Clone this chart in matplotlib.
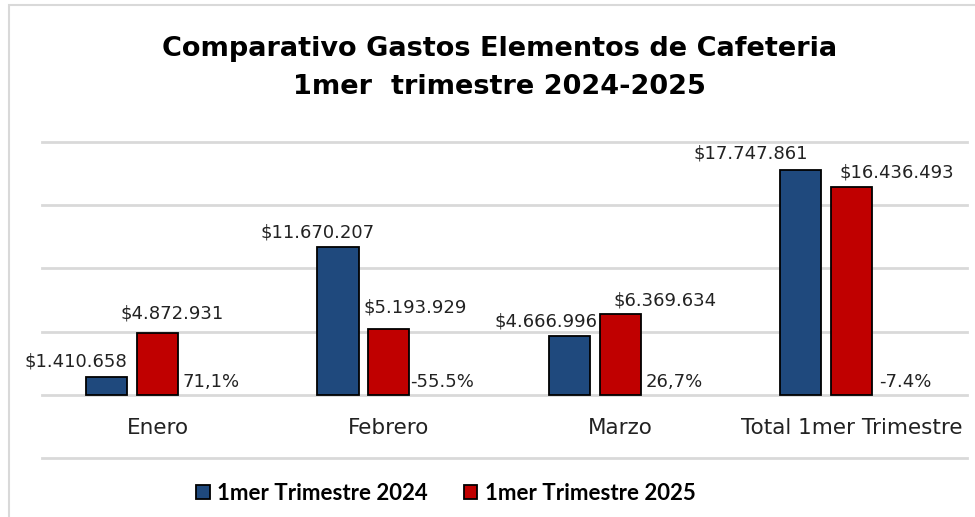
import matplotlib.pyplot as plt
import numpy as np
from matplotlib.patches import Rectangle

categorias = ['Enero', 'Febrero', 'Marzo', 'Total 1mer Trimestre']
gasto_2024 = [1410658, 11670207, 4666996, 17747861]
gasto_2025 = [4872931, 5193929, 6369634, 16436493]
variacion = ['71,1%', '-55.5%', '26,7%', '-7.4%']
series = ['1mer Trimestre 2024', '1mer Trimestre 2025']

azul = '#1F497D'
rojo = '#C00000'
font = 'DejaVu Sans'

def pesos(v):
    return '$' + f'{v:,}'.replace(',', '.')

fig = plt.figure(figsize=(9.75, 5.17), dpi=100)
W, H = 975, 517
# marco del grafico
fig.patches.append(Rectangle((9 / W, -0.1), 1.2, (H - 5) / H + 0.1, transform=fig.transFigure,
                             fill=False, edgecolor='#d9d9d9', linewidth=1.5))

ax = fig.add_axes([42 / W, (H - 458) / H, (967 - 42) / W, (458 - 142) / H])
x = np.arange(len(categorias))
w = 0.178
paso = 0.22

b1 = ax.bar(x - paso, gasto_2024, w, color=azul, edgecolor='black', linewidth=1.3, label=series[0], zorder=3)
b2 = ax.bar(x, gasto_2025, w, color=rojo, edgecolor='black', linewidth=1.3, label=series[1], zorder=3)

ax.set_xlim(-0.5, len(categorias) - 0.5)
ax.set_ylim(-5e6, 20e6)
ax.set_yticks(np.arange(-5e6, 20e6 + 1, 5e6))
ax.yaxis.grid(True, color='#d9d9d9', linewidth=2)
ax.set_axisbelow(True)
for s in ax.spines.values():
    s.set_visible(False)
ax.set_xticks([])
ax.tick_params(left=False, labelleft=False)
for gl in ax.get_ygridlines():
    gl.set_clip_on(False)

# desplazamientos de etiquetas (px)
off_2024 = [(-31, 15), (-20, 15), (-23, 14), (-50, 17)]
off_2025 = [(15, 20), (26, 22), (45, 14), (45, 15)]
for i, (bar, v) in enumerate(zip(b1, gasto_2024)):
    ax.annotate(pesos(v), (bar.get_x() + bar.get_width() / 2, v),
                xytext=(off_2024[i][0] * 0.72, off_2024[i][1] * 0.72), textcoords='offset points',
                ha='center', va='center', fontsize=13, family=font, color='#222222')
for i, (bar, v) in enumerate(zip(b2, gasto_2025)):
    ax.annotate(pesos(v), (bar.get_x() + bar.get_width() / 2, v),
                xytext=(off_2025[i][0] * 0.72, off_2025[i][1] * 0.72), textcoords='offset points',
                ha='center', va='center', fontsize=13, family=font, color='#222222')

for i, t in enumerate(variacion):
    ax.annotate(t, (x[i] + paso, 0), xytext=(2, 9), textcoords='offset points',
                ha='center', va='center', fontsize=13, family=font, color='#222222')

for i, c in enumerate(categorias):
    ax.text(x[i], -2.6e6, c, ha='center', va='center', fontsize=15.5, family=font, color='#222222')

fig.text(0.512, (H - 67.5) / H, 'Comparativo Gastos Elementos de Cafeteria\n1mer  trimestre 2024-2025',
         ha='center', va='center', fontsize=19.5, fontweight='bold', family=font, linespacing=1.6)

fig.legend(handles=[b1, b2], labels=series, loc='center', bbox_to_anchor=(446 / W, (H - 493) / H),
           ncol=2, frameon=False, prop={'family': 'Lato', 'weight': 'bold', 'size': 16},
           handlelength=0.6, handleheight=0.6, handletextpad=0.35, columnspacing=1.6)

fig.savefig('out.png', dpi=100)
